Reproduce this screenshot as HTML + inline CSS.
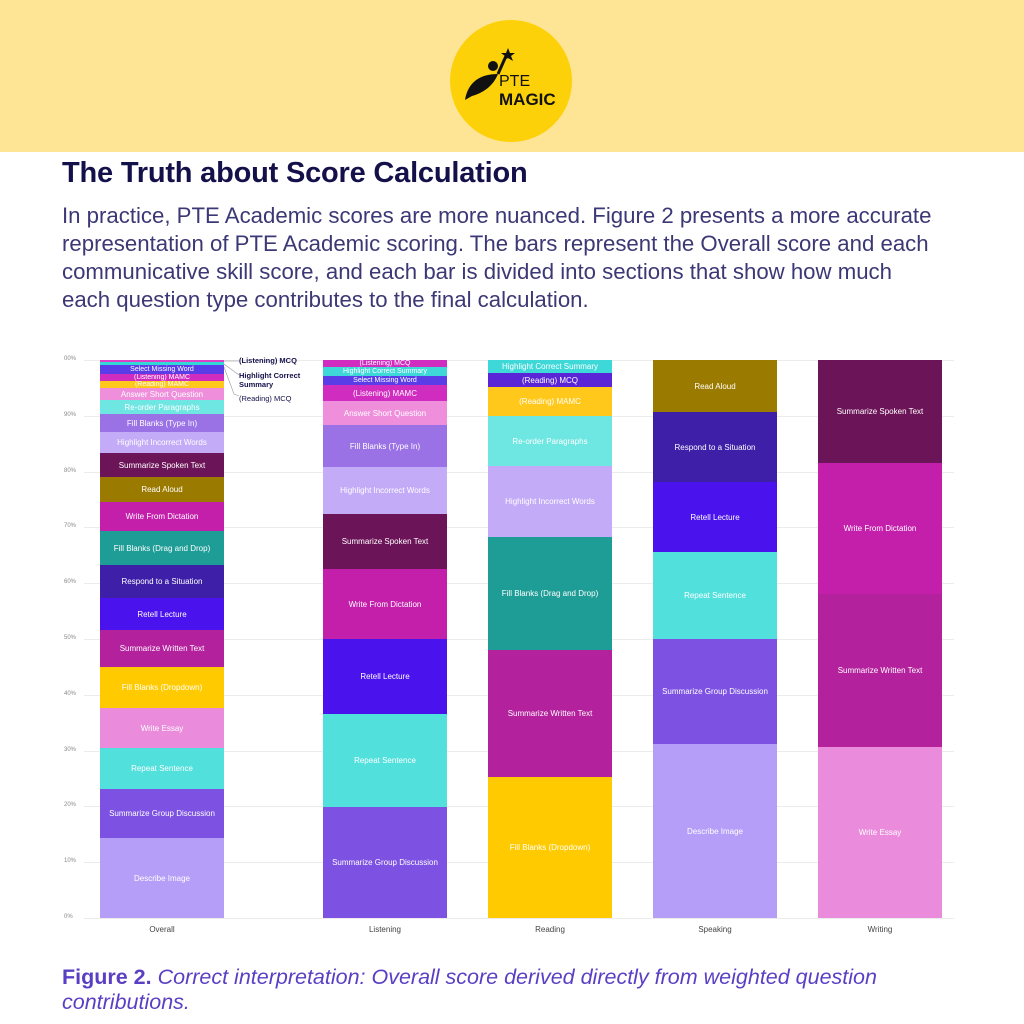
<!DOCTYPE html>
<html><head><meta charset="utf-8"><style>
*{margin:0;padding:0;box-sizing:border-box}
body{width:1024px;height:1024px;position:relative;background:#fff;font-family:"Liberation Sans",sans-serif;overflow:hidden}
.hdr{position:absolute;left:0;top:0;width:1024px;height:152px;background:#fee596}
.logo{position:absolute;left:450px;top:20px;width:122px;height:122px;border-radius:50%;background:#fdd10a}
.h1{position:absolute;left:62px;top:157px;font-size:29px;font-weight:bold;color:#14104a;letter-spacing:-0.2px}
.p{position:absolute;left:62px;top:202px;font-size:22.2px;line-height:28px;color:#3b3875;white-space:nowrap}
.cap{position:absolute;left:62px;top:965px;font-size:21.5px;line-height:25px;color:#5a3fc4;font-style:italic}
.cap b{font-style:normal}
.seg{position:absolute;display:flex;align-items:center;justify-content:center;color:#fff;font-size:8px;white-space:nowrap;overflow:hidden}
.grid{position:absolute;left:84px;width:870px;height:1px;background:#ececec}
.tk{position:absolute;left:64px;font-size:6px;color:#888}
.xl{position:absolute;top:925px;width:124px;text-align:center;font-size:8px;color:#444}
.ann{position:absolute;font-size:7.5px;color:#14104a;line-height:9px}
</style></head><body>
<div class="hdr"></div>
<div class="logo">
<svg width="122" height="122" viewBox="0 0 122 122">
<circle cx="43" cy="46" r="5" fill="#111"/>
<path d="M15 80 C18 62 30 54 48 54 C44 64 36 72 22 76 Z" fill="#111"/>
<path d="M48 54 L56 36" stroke="#111" stroke-width="3"/>
<polygon points="58,28 60,33 65,33 61,36 63,41 58,38 53,41 55,36 51,33 56,33" fill="#111"/>
<text x="49" y="66" font-family="Liberation Sans" font-size="16" fill="#111">PTE</text>
<text x="49" y="85" font-family="Liberation Sans" font-size="17" font-weight="bold" fill="#111">MAGIC</text>
</svg></div>
<div class="h1">The Truth about Score Calculation</div>
<div class="p">In practice, PTE Academic scores are more nuanced. Figure 2 presents a more accurate<br>representation of PTE Academic scoring. The bars represent the Overall score and each<br>communicative skill score, and each bar is divided into sections that show how much<br>each question type contributes to the final calculation.</div>
<div id="chart"></div>
<div class="ann" style="left:239px;top:356px;font-weight:bold">(Listening) MCQ</div>
<div class="ann" style="left:239px;top:371px;font-weight:bold">Highlight Correct<br>Summary</div>
<div class="ann" style="left:239px;top:394px">(Reading) MCQ</div>
<div class="cap"><b>Figure 2.</b> Correct interpretation: Overall score derived directly from weighted question<br>contributions.</div>
<script>
var C={pk:"#e040c8",cy:"#35d6d6",smw:"#5b3de8",lm:"#d02cc0",ry:"#ffc81a",asq:"#ef8fdc",ro:"#6ee6e2",fbt:"#9a72e6",hiw:"#c3abf7",sst:"#6b1457",ra:"#9b7a00",wfd:"#c41fab",fbd:"#1e9c96",rs:"#3d1fa8",rl:"#4a12ec",swt:"#b4219d",fdd:"#ffcb00",we:"#ea8cdb",rep:"#52e0dc",sgd:"#7d52e2",di:"#b59ef7",rmcq:"#5a25d6",hcs:"#3ed8d8"};
var bars=[
[100,[[360,"pk",""],[362,"cy",""],[365,"smw","Select Missing Word"],[374,"lm","(Listening) MAMC"],[381,"ry","(Reading) MAMC"],[388,"asq","Answer Short Question"],[400,"ro","Re-order Paragraphs"],[414,"fbt","Fill Blanks (Type In)"],[432,"hiw","Highlight Incorrect Words"],[453,"sst","Summarize Spoken Text"],[477,"ra","Read Aloud"],[502,"wfd","Write From Dictation"],[531,"fbd","Fill Blanks (Drag and Drop)"],[565,"rs","Respond to a Situation"],[598,"rl","Retell Lecture"],[630,"swt","Summarize Written Text"],[667,"fdd","Fill Blanks (Dropdown)"],[708,"we","Write Essay"],[748,"rep","Repeat Sentence"],[789,"sgd","Summarize Group Discussion"],[838,"di","Describe Image"],[918]]],
[323,[[360,"lm","(Listening) MCQ"],[367,"hcs","Highlight Correct Summary"],[376,"smw","Select Missing Word"],[385,"lm","(Listening) MAMC"],[401,"asq","Answer Short Question"],[425,"fbt","Fill Blanks (Type In)"],[467,"hiw","Highlight Incorrect Words"],[514,"sst","Summarize Spoken Text"],[569,"wfd","Write From Dictation"],[639,"rl","Retell Lecture"],[714,"rep","Repeat Sentence"],[807,"sgd","Summarize Group Discussion"],[918]]],
[488,[[360,"hcs","Highlight Correct Summary"],[373,"rmcq","(Reading) MCQ"],[387,"ry","(Reading) MAMC"],[416,"ro","Re-order Paragraphs"],[466,"hiw","Highlight Incorrect Words"],[537,"fbd","Fill Blanks (Drag and Drop)"],[650,"swt","Summarize Written Text"],[777,"fdd","Fill Blanks (Dropdown)"],[918]]],
[653,[[360,"ra","Read Aloud"],[412,"rs","Respond to a Situation"],[482,"rl","Retell Lecture"],[552,"rep","Repeat Sentence"],[639,"sgd","Summarize Group Discussion"],[744,"di","Describe Image"],[918]]],
[818,[[360,"sst","Summarize Spoken Text"],[463,"wfd","Write From Dictation"],[594,"swt","Summarize Written Text"],[747,"we","Write Essay"],[918]]]];
var h="";
for(var i=0;i<=10;i++){var y=918-55.8*i;h+='<div class="grid" style="top:'+y+'px"></div><div class="tk" style="top:'+(y-4)+'px">'+(i==10?"00":i*10)+'%</div>';}
bars.forEach(function(b){var s=b[1];for(var k=0;k<s.length-1;k++){var t=s[k][0],hh=s[k+1][0]-t;h+='<div class="seg" style="left:'+b[0]+'px;top:'+t+'px;width:124px;height:'+hh+'px;background:'+C[s[k][1]]+';font-size:'+(hh<10?7:8)+'px">'+s[k][2]+'</div>';}});
var n=["Overall","Listening","Reading","Speaking","Writing"];
bars.forEach(function(b,i){h+='<div class="xl" style="left:'+b[0]+'px">'+n[i]+'</div>';});
h+='<svg style="position:absolute;left:224px;top:358px" width="16" height="45"><polyline points="0,3 15,3" stroke="#999" fill="none" stroke-width=".6"/><polyline points="0,6 15,17" stroke="#999" fill="none" stroke-width=".6"/><polyline points="0,9 10,36 15,38" stroke="#999" fill="none" stroke-width=".6"/></svg>';
document.getElementById("chart").innerHTML=h;
</script>
</body></html>
